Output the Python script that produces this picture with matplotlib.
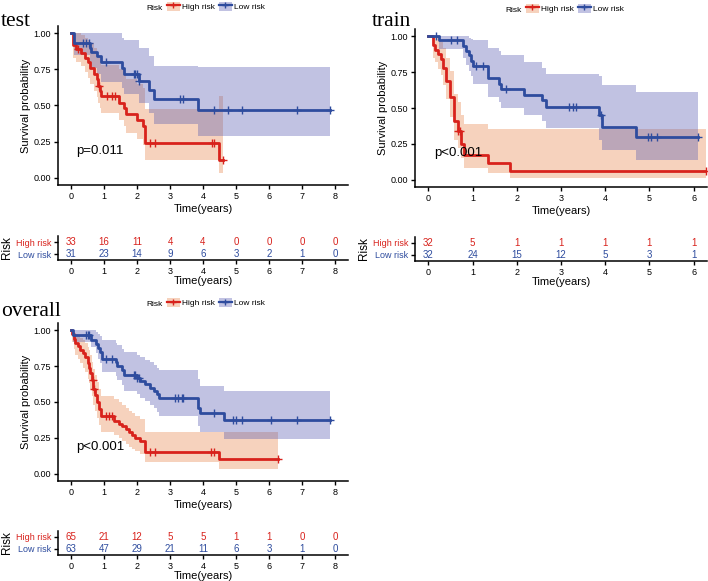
import numpy as np
import matplotlib
matplotlib.use("Agg")
import matplotlib.pyplot as plt
from matplotlib.patches import Patch
from matplotlib.lines import Line2D

plt.rcParams['font.family'] = ['Liberation Sans', 'DejaVu Sans']

RED = '#D8221C'
BLUE = '#2E4C9E'
RED_FILL = '#E8844A'
BLUE_FILL = '#5558B0'

# ---------------- test ----------------
test_hi_t = [0.06, 0.16, 0.31, 0.43, 0.5, 0.58, 0.69, 0.77, 0.81, 0.87, 0.91, 1.44, 1.6, 1.67, 2.0, 2.18, 2.25, 4.5]
test_hi_s = [0.917, 0.889, 0.866, 0.83, 0.80, 0.76, 0.72, 0.68, 0.635, 0.60, 0.563, 0.52, 0.485, 0.44, 0.40, 0.36, 0.24, 0.12]
test_hi_lo = [0.83, 0.80, 0.77, 0.73, 0.69, 0.65, 0.60, 0.56, 0.52, 0.48, 0.45, 0.40, 0.36, 0.31, 0.27, 0.23, 0.12, 0.03]
test_hi_up = [1.0, 1.0, 0.99, 0.97, 0.95, 0.93, 0.90, 0.87, 0.84, 0.81, 0.78, 0.75, 0.72, 0.68, 0.65, 0.62, 0.475, 0.565]
test_hi_end = 4.62
test_hi_cens = [0.2, 0.85, 1.1, 1.24, 1.34, 2.4, 2.55, 4.27, 4.34, 4.62]

test_lo_t = [0.1, 0.58, 0.6, 0.78, 0.9, 1.55, 1.6, 2.05, 2.35, 2.5, 3.85]
test_lo_s = [0.935, 0.90, 0.87, 0.84, 0.80, 0.76, 0.72, 0.67, 0.61, 0.545, 0.466]
test_lo_lo = [0.85, 0.80, 0.76, 0.72, 0.66, 0.62, 0.58, 0.52, 0.45, 0.37, 0.29]
test_lo_up = [1.0, 1.0, 1.0, 1.0, 1.0, 0.97, 0.95, 0.90, 0.84, 0.775, 0.765]
test_lo_end = 7.85
test_lo_cens = [0.35, 0.45, 0.55, 1.07, 1.9, 1.95, 2.0, 2.05, 3.3, 3.4, 4.32, 4.75, 5.18, 6.84, 7.85]

test_times = [0, 1, 2, 3, 4, 5, 6, 7, 8]
test_risk_hi = [33, 16, 11, 4, 4, 0, 0, 0, 0]
test_risk_lo = [31, 23, 14, 9, 6, 3, 2, 1, 0]

# ---------------- train ----------------
train_hi_t = [0.1, 0.15, 0.22, 0.28, 0.33, 0.4, 0.5, 0.58, 0.67, 0.73, 0.8, 1.34, 1.85]
train_hi_s = [0.94, 0.906, 0.875, 0.84, 0.78, 0.69, 0.58, 0.41, 0.34, 0.25, 0.17, 0.12, 0.063]
train_hi_lo = [0.85, 0.82, 0.77, 0.73, 0.66, 0.56, 0.44, 0.28, 0.22, 0.15, 0.085, 0.05, 0.016]
train_hi_up = [1.0, 1.0, 0.98, 0.96, 0.92, 0.85, 0.76, 0.60, 0.54, 0.45, 0.39, 0.355, 0.355]
train_hi_end = 6.28
train_hi_cens = [0.68, 0.72, 6.28]

train_lo_t = [0.25, 0.78, 0.85, 0.93, 0.96, 1.0, 1.34, 1.6, 1.64, 2.17, 2.58, 2.66, 3.87, 3.92, 4.69]
train_lo_s = [0.97, 0.935, 0.90, 0.866, 0.83, 0.79, 0.71, 0.67, 0.635, 0.59, 0.554, 0.505, 0.45, 0.37, 0.30]
train_lo_lo = [0.91, 0.85, 0.80, 0.76, 0.72, 0.67, 0.58, 0.54, 0.50, 0.45, 0.41, 0.36, 0.28, 0.21, 0.14]
train_lo_up = [1.0, 1.0, 1.0, 0.99, 0.98, 0.97, 0.92, 0.90, 0.87, 0.82, 0.78, 0.74, 0.72, 0.66, 0.614]
train_lo_end = 6.09
train_lo_cens = [0.17, 0.51, 0.66, 1.08, 1.23, 1.76, 3.19, 3.26, 3.34, 3.9, 4.96, 5.03, 5.17, 6.09]

train_times = [0, 1, 2, 3, 4, 5, 6]
train_risk_hi = [32, 5, 1, 1, 1, 1, 1]
train_risk_lo = [32, 24, 15, 12, 5, 3, 1]

# ---------------- overall ----------------
all_hi_t = [0.03, 0.08, 0.13, 0.2, 0.28, 0.35, 0.42, 0.5, 0.55, 0.58, 0.62, 0.67, 0.72, 0.78, 0.85, 0.92,
            1.3, 1.45, 1.55, 1.65, 1.75, 1.85, 1.95, 2.1, 2.25, 4.5]
all_hi_s = [0.97, 0.94, 0.91, 0.89, 0.86, 0.84, 0.81, 0.77, 0.74, 0.70, 0.65, 0.59, 0.55, 0.50, 0.45, 0.40,
            0.37, 0.35, 0.33, 0.31, 0.29, 0.27, 0.25, 0.23, 0.155, 0.105]
all_hi_lo = [0.92, 0.87, 0.83, 0.80, 0.77, 0.74, 0.71, 0.66, 0.63, 0.59, 0.54, 0.48, 0.44, 0.39, 0.34, 0.29,
             0.27, 0.25, 0.23, 0.21, 0.19, 0.175, 0.16, 0.14, 0.08, 0.035]
all_hi_up = [1.0, 0.99, 0.975, 0.96, 0.945, 0.93, 0.91, 0.88, 0.86, 0.83, 0.78, 0.73, 0.69, 0.64, 0.59, 0.54,
             0.52, 0.50, 0.48, 0.46, 0.44, 0.42, 0.40, 0.38, 0.29, 0.29]
all_hi_end = 6.28
all_hi_cens = [0.65, 0.7, 1.05, 1.15, 1.25, 2.4, 2.55, 4.25, 4.32, 6.28]

all_lo_t = [0.07, 0.6, 0.75, 0.8, 0.88, 0.93, 1.35, 1.4, 1.55, 1.6, 2.0, 2.1, 2.25, 2.4, 2.5, 2.6, 2.65, 3.85, 3.9, 4.65]
all_lo_s = [0.965, 0.935, 0.905, 0.875, 0.845, 0.80, 0.775, 0.75, 0.72, 0.685, 0.665, 0.645, 0.625, 0.60,
            0.58, 0.555, 0.53, 0.46, 0.42, 0.375]
all_lo_lo = [0.92, 0.88, 0.84, 0.80, 0.77, 0.71, 0.68, 0.65, 0.62, 0.58, 0.555, 0.53, 0.51, 0.48, 0.455,
             0.43, 0.405, 0.33, 0.29, 0.24]
all_lo_up = [1.0, 1.0, 0.99, 0.975, 0.96, 0.93, 0.91, 0.895, 0.87, 0.845, 0.83, 0.81, 0.795, 0.775, 0.76,
             0.74, 0.72, 0.66, 0.61, 0.576]
all_lo_end = 7.85
all_lo_cens = [0.45, 0.5, 0.55, 1.07, 1.25, 1.9, 1.95, 2.0, 2.05, 3.15, 3.25, 3.35, 3.4, 4.32, 4.9, 5.0, 5.18,
               6.05, 6.85, 7.85]

all_times = [0, 1, 2, 3, 4, 5, 6, 7, 8]
all_risk_hi = [65, 21, 12, 5, 5, 1, 1, 0, 0]
all_risk_lo = [63, 47, 29, 21, 11, 6, 3, 1, 0]

W, H = 708, 581
fig = plt.figure(figsize=(W / 100, H / 100), dpi=100)


def box(x0, x1, ytop, ybot):
    return [x0 / W, 1 - ybot / H, (x1 - x0) / W, (ybot - ytop) / H]


def km(ax, t, s, lo, up, tend, cens, color, fill):
    tt = np.r_[0, t, tend]
    ss = np.r_[1, s, s[-1]]
    ll = np.r_[1, lo, lo[-1]]
    uu = np.r_[1, up, up[-1]]
    ax.fill_between(tt, ll, uu, step='post', color=fill, alpha=0.36, linewidth=0)
    ax.step(tt, ss, where='post', color=color, lw=2.0)
    ct = np.array(cens)
    idx = np.searchsorted(tt, ct, side='right') - 1
    ax.plot(ct, ss[idx], '+', color=color, ms=5.5, mew=1.0)


def style(ax):
    for sp in ['top', 'right']:
        ax.spines[sp].set_visible(False)
    for sp in ['left', 'bottom']:
        ax.spines[sp].set_linewidth(1.1)
    ax.tick_params(length=3, width=1, labelsize=6.5, pad=2, colors='black')


def panel(title, title_xy, main_box, tab_box, hi, lo, times, rhi, rlo, xlim, pval, pxy, leg_xy):
    ax = fig.add_axes(box(*main_box))
    km(ax, *hi, RED, RED_FILL)
    km(ax, *lo, BLUE, BLUE_FILL)
    style(ax)
    ax.set_xlim(*xlim)
    ax.set_ylim(-0.05, 1.05)
    ax.set_xticks(times)
    ax.set_yticks([0, 0.25, 0.5, 0.75, 1.0])
    ax.set_yticklabels(['0.00', '0.25', '0.50', '0.75', '1.00'])
    ax.set_ylabel('Survival probability', fontsize=8, labelpad=2)
    ax.set_xlabel('Time(years)', fontsize=8, labelpad=2)
    ax.text(pxy[0], pxy[1], pval, fontsize=9.5, va='center', ha='left')
    fig.text(title_xy[0] / W, 1 - title_xy[1] / H, title, fontsize=15.5,
             family='Liberation Serif', va='center', ha='left')
    # legend
    lx, ly = leg_xy
    fig.text(lx / W, 1 - (ly + 1) / H, 'Risk', fontsize=6, va='center', ha='left')
    handles = [(Patch(facecolor=RED_FILL, alpha=0.36, lw=0), Line2D([], [], color=RED, lw=1.6, marker='+', ms=4)),
               (Patch(facecolor=BLUE_FILL, alpha=0.36, lw=0), Line2D([], [], color=BLUE, lw=1.6, marker='+', ms=4))]
    fig.legend(handles, ['High risk', 'Low risk'], ncol=2, fontsize=6, frameon=False,
               loc='center left', bbox_to_anchor=((lx + 17) / W, 1 - (ly - 0.5) / H), borderpad=0,
               handlelength=1.5, handletextpad=0.3, columnspacing=0.5, handleheight=1.3)

    # risk table
    at = fig.add_axes(box(*tab_box))
    style(at)
    at.set_xlim(*xlim)
    at.set_ylim(0.5, 2.5)
    at.set_xticks(times)
    at.set_yticks([1, 2])
    at.set_yticklabels(['Low risk', 'High risk'])
    at.get_yticklabels()[0].set_color(BLUE)
    at.get_yticklabels()[1].set_color(RED)
    for x, a, b in zip(times, rhi, rlo):
        at.text(x, 2, str(a), color=RED, fontsize=7, ha='center', va='center')
        at.text(x, 1, str(b), color=BLUE, fontsize=7, ha='center', va='center')
    at.set_ylabel('Risk', fontsize=8.5, labelpad=2)
    at.set_xlabel('Time(years)', fontsize=8, labelpad=0)
    return ax, at


panel('test', (1, 21), (58, 348, 26, 185), (58, 348, 236, 260),
      (test_hi_t, test_hi_s, test_hi_lo, test_hi_up, test_hi_end, test_hi_cens),
      (test_lo_t, test_lo_s, test_lo_lo, test_lo_up, test_lo_end, test_lo_cens),
      test_times, test_risk_hi, test_risk_lo, (-0.4, 8.4), 'p=0.011', (0.16, 0.185), (146, 7))

panel('train', (372, 21), (415, 707, 29, 187), (415, 707, 237, 261),
      (train_hi_t, train_hi_s, train_hi_lo, train_hi_up, train_hi_end, train_hi_cens),
      (train_lo_t, train_lo_s, train_lo_lo, train_lo_up, train_lo_end, train_lo_cens),
      train_times, train_risk_hi, train_risk_lo, (-0.3, 6.3), 'p<0.001', (0.14, 0.19), (505, 9))

panel('overall', (1, 311), (58, 348, 323, 481), (58, 348, 531, 555),
      (all_hi_t, all_hi_s, all_hi_lo, all_hi_up, all_hi_end, all_hi_cens),
      (all_lo_t, all_lo_s, all_lo_lo, all_lo_up, all_lo_end, all_lo_cens),
      all_times, all_risk_hi, all_risk_lo, (-0.4, 8.4), 'p<0.001', (0.16, 0.19), (146, 303))

fig.savefig('out.png', dpi=100)
